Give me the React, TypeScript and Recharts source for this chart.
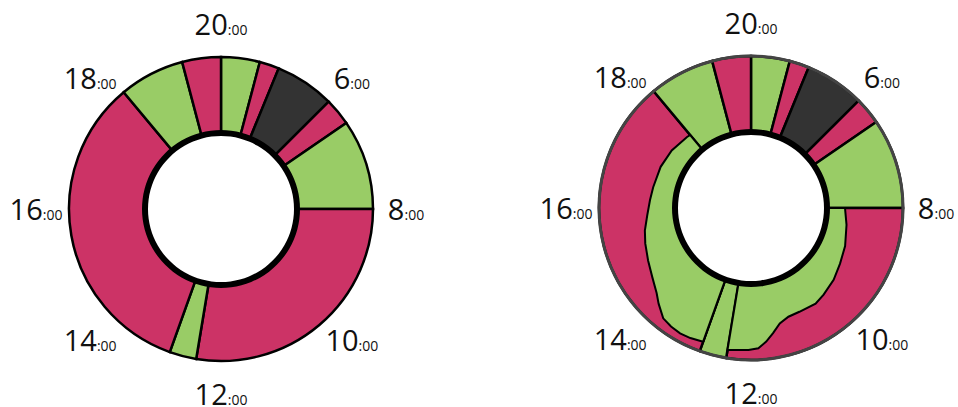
import {
	Cell,
	Pie,
	PieChart,
	PolarAngleAxis,
	PolarRadiusAxis,
	Radar,
	RadarChart,
} from "recharts";

// day segments, clockwise from 20:00 (arc spans)
const segmentKinds = ["green", "pink", "dark", "pink", "green", "pink", "green", "pink", "green", "pink"];
const segmentSpans = [14.8, 7.5, 22.8, 10.4, 34.5, 99.4, 10.3, 120.5, 25, 14.8];

// clock labels around the ring
const hourTicks = ["20", "6", "8", "10", "12", "14", "16", "18"];

// green overlay inside the two long pink blocks (right donut): angle from top, radius
const blobAngles = [
	90, 90, 100, 112, 122, 131, 140, 146, 155, 161, 166, 170, 173.5, 177, 181, 185, 189.4, 189.4,
	199.7, 199.7, 205, 209.5, 214, 218.5, 224, 228, 235, 243, 251.5, 258, 266, 274.5, 282, 294.5, 306, 318, 320.2, 320.2,
];
const blobRadii = [
	0, 94, 97, 101.5, 105, 109.5, 113, 115.5, 114.5, 115, 119, 127, 134.5, 140.5, 142, 142.5, 144, 0,
	0, 142, 143.5, 144, 143, 141, 133, 127, 120.5, 115.5, 111.5, 108.5, 104, 101.3, 100, 99.3, 98, 95.6, 95, 0,
];

const colors: Record<string, string> = {
	green: "#99cc66",
	pink: "#cc3366",
	dark: "#333333",
};

const segments = segmentSpans.map((span, i) => ({ kind: segmentKinds[i], span }));
const hours = hourTicks.map((hour) => ({ hour, slot: 1 }));
const blob = blobAngles.map((deg, i) => ({ deg, r: blobRadii[i] }));
const whole = [{ v: 1 }];

const CX = 221;
const INNER = 76;
const OUTER = 152;
const noMargin = { top: 0, right: 0, bottom: 0, left: 0 };

function HourLabel(props: any) {
	const { x, y, index } = props;
	return (
		<text x={x} y={y + 11} textAnchor="middle" fill="#111" fontFamily="'Open Sans', sans-serif">
			<tspan fontSize={29}>{hourTicks[index]}</tspan>
			<tspan fontSize={14}>:00</tspan>
		</text>
	);
}

function Segments({ cy }: { cy: number }) {
	return (
		<Pie
			data={segments}
			dataKey="span"
			cx={CX}
			cy={cy}
			innerRadius={INNER}
			outerRadius={OUTER}
			startAngle={90}
			endAngle={-270}
			stroke="#000"
			strokeWidth={2.5}
			isAnimationActive={false}
		>
			{segments.map((s, i) => (
				<Cell key={i} fill={colors[s.kind]} />
			))}
		</Pie>
	);
}

function Ring({ cy, inner, outer, fill }: { cy: number; inner: number; outer: number; fill: string }) {
	return (
		<Pie
			data={whole}
			dataKey="v"
			cx={CX}
			cy={cy}
			innerRadius={inner}
			outerRadius={outer}
			startAngle={90}
			endAngle={-270}
			fill={fill}
			stroke="none"
			isAnimationActive={false}
		/>
	);
}

function Hours({ cy }: { cy: number }) {
	return (
		<Pie
			data={hours}
			dataKey="slot"
			cx={CX}
			cy={cy}
			innerRadius={164}
			outerRadius={165}
			startAngle={112.5}
			endAngle={-247.5}
			fill="none"
			stroke="none"
			label={HourLabel}
			labelLine={false}
			isAnimationActive={false}
		/>
	);
}

export default function App() {
	const leftCy = 209;
	const rightCy = 208;
	return (
		<div style={{ position: "absolute", left: 0, top: 0, width: 958, height: 407, overflow: "hidden", background: "#fff" }}>
			<div style={{ position: "absolute", left: 0, top: 0 }}>
				<PieChart width={440} height={407} margin={noMargin}>
					{Segments({ cy: leftCy })}
					{Ring({ cy: leftCy, inner: 73, outer: 79, fill: "#000" })}
					{Hours({ cy: leftCy })}
				</PieChart>
			</div>

			{/* right donut: segments, green overlay, then hole, rim and labels on top */}
			<div style={{ position: "absolute", left: 530, top: 0 }}>
				<PieChart width={428} height={407} margin={noMargin}>
					{Segments({ cy: rightCy })}
				</PieChart>
			</div>
			<div style={{ position: "absolute", left: 530, top: 0 }}>
				<RadarChart
					width={428}
					height={407}
					margin={noMargin}
					cx={CX}
					cy={rightCy}
					outerRadius={OUTER}
					startAngle={90}
					endAngle={-270}
					data={blob}
				>
					<PolarAngleAxis dataKey="deg" type="number" domain={[0, 360]} allowDataOverflow tick={false} tickLine={false} axisLine={false} />
					<PolarRadiusAxis type="number" domain={[0, OUTER]} allowDataOverflow tick={false} axisLine={false} />
					<Radar
						dataKey="r"
						fill="#99cc66"
						fillOpacity={1}
						stroke="#000"
						strokeWidth={2}
						dot={false}
						isAnimationActive={false}
					/>
				</RadarChart>
			</div>
			<div style={{ position: "absolute", left: 530, top: 0 }}>
				<PieChart width={428} height={407} margin={noMargin}>
					{Ring({ cy: rightCy, inner: 0, outer: INNER, fill: "#fff" })}
					{Ring({ cy: rightCy, inner: 73, outer: 79, fill: "#000" })}
					{Ring({ cy: rightCy, inner: 150.5, outer: 153.5, fill: "#444" })}
					{Hours({ cy: rightCy })}
				</PieChart>
			</div>
		</div>
	);
}
